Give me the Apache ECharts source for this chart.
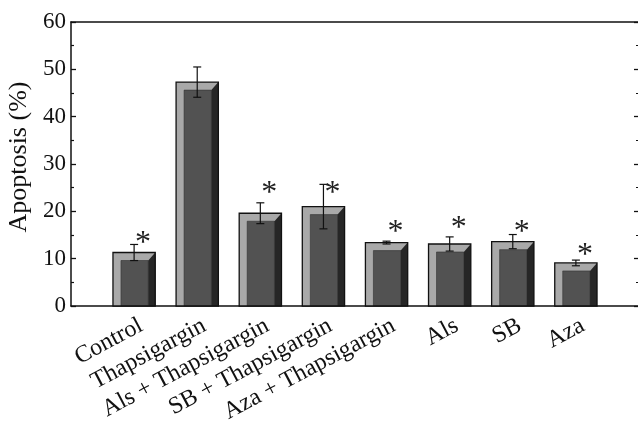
<!DOCTYPE html>
<html>
<head>
<meta charset="utf-8">
<script src="https://cdn.jsdelivr.net/npm/echarts@6/dist/echarts.min.js"></script>
<style>
  html, body { margin: 0; padding: 0; background: #fff; }
  #chart { width: 638px; height: 426px; }
</style>
</head>
<body>
<div id="chart"></div>
<script>
// ---- data ----
const categories = ['Control', 'Thapsigargin', 'Als + Thapsigargin', 'SB + Thapsigargin',
                    'Aza + Thapsigargin', 'Als', 'SB', 'Aza'];
const apoptosis = [11.3, 47.3, 19.6, 21.0, 13.4, 13.1, 13.6, 9.1];
const errors = [1.7, 3.2, 2.2, 4.7, 0.3, 1.5, 1.5, 0.6];
const significanceLevels = [14.2, null, 24.9, 24.7, 16.5, 17.5, 16.5, 11.6];
const yTicks = [0, 10, 20, 30, 40, 50, 60];

// ---- styling ----
const FONT = "'Liberation Serif', 'Times New Roman', Times, serif";
const BAR_RATIO = 0.67;

const barData = apoptosis.map((v, i) => [i, v]);
const errData = apoptosis.map((v, i) => [i, v, errors[i]]);
const starData = [];
significanceLevels.forEach((lv, i) => { if (lv != null) starData.push([i, lv]); });

function renderBar(params, api) {
  const i = api.value(0), v = api.value(1);
  const top = api.coord([i, v]);
  const base = api.coord([i, 0]);
  const w = api.size([BAR_RATIO, 0])[0];
  const x0 = top[0] - w / 2, x1 = top[0] + w / 2, yT = top[1], yB = base[1];
  const s = 8, r = 7;
  return {
    type: 'group',
    children: [
      { type: 'rect', shape: { x: x0, y: yT, width: x1 - x0, height: yB - yT },
        style: { fill: '#a9a9a9', stroke: null } },
      { type: 'rect', shape: { x: x0 + s, y: yT + s, width: (x1 - r) - (x0 + s), height: yB - yT - s },
        style: { fill: '#525252', stroke: '#333', lineWidth: 0.6 } },
      { type: 'polygon', shape: { points: [[x1 - r, yT + s], [x1, yT], [x1, yB], [x1 - r, yB]] },
        style: { fill: '#262626' } },
      { type: 'rect', shape: { x: x0, y: yT, width: x1 - x0, height: yB - yT },
        style: { fill: null, stroke: '#111', lineWidth: 1.3 } }
    ]
  };
}

function renderErr(params, api) {
  const i = api.value(0), v = api.value(1), e = api.value(2);
  const hi = api.coord([i, v + e]);
  const lo = api.coord([i, v - e]);
  const cap = 4;
  const st = { stroke: '#111', lineWidth: 1.2 };
  return {
    type: 'group',
    children: [
      { type: 'line', shape: { x1: hi[0], y1: hi[1], x2: lo[0], y2: lo[1] }, style: st },
      { type: 'line', shape: { x1: hi[0] - cap, y1: hi[1], x2: hi[0] + cap, y2: hi[1] }, style: st },
      { type: 'line', shape: { x1: lo[0] - cap, y1: lo[1], x2: lo[0] + cap, y2: lo[1] }, style: st }
    ]
  };
}

function renderStar(params, api) {
  const i = api.value(0), lv = api.value(1);
  const p = api.coord([i, lv]);
  return {
    type: 'text',
    x: p[0] + 9, y: p[1] + 5,
    style: { text: '*', fontFamily: FONT, fontSize: 32, fill: '#222',
             align: 'center', verticalAlign: 'middle' }
  };
}

const chart = echarts.init(document.getElementById('chart'), null, { renderer: 'canvas' });
chart.setOption({
  animation: false,
  backgroundColor: '#ffffff',
  textStyle: { fontFamily: FONT },
  grid: { left: 71, right: -1, top: 22, bottom: 120, containLabel: false, outerBoundsMode: 'none' },
  xAxis: [
    {
      type: 'value', min: -1, max: 8, interval: 1, position: 'bottom',
      axisLine: { show: true, onZero: false, lineStyle: { color: '#111', width: 1.5 } },
      axisTick: { show: false },
      splitLine: { show: false },
      axisLabel: {
        rotate: 28, margin: 22, padding: [0, -8, 0, 0],
        fontFamily: FONT, fontSize: 24, color: '#111',
        showMinLabel: true, showMaxLabel: true, hideOverlap: false,
        formatter: function (val) {
          const k = Math.round(val);
          return (k >= 0 && k < categories.length) ? categories[k] : '';
        }
      }
    },
    {
      type: 'value', min: -1, max: 8, position: 'top',
      axisLine: { show: true, onZero: false, lineStyle: { color: '#111', width: 1.5 } },
      axisTick: { show: false }, axisLabel: { show: false }, splitLine: { show: false }
    }
  ],
  yAxis: [
    {
      type: 'value', min: 0, max: 60, interval: 10, position: 'left',
      name: 'Apoptosis (%)', nameLocation: 'middle', nameGap: 34,
      nameTextStyle: { fontFamily: FONT, fontSize: 26, color: '#111', padding: [0, 0, 0, 14] },
      axisLine: { show: true, onZero: false, lineStyle: { color: '#111', width: 1.5 } },
      axisTick: { show: true, inside: true, length: 5, lineStyle: { color: '#111', width: 1.3 } },
      minorTick: { show: true, splitNumber: 2, length: 3, lineStyle: { color: '#111', width: 1.2 } },
      splitLine: { show: false },
      axisLabel: { margin: 5, fontFamily: FONT, fontSize: 23, color: '#111',
                   formatter: function (v) { return yTicks.indexOf(v) >= 0 ? String(v) : ''; } }
    },
    {
      type: 'value', min: 0, max: 60, interval: 10, position: 'right',
      axisLine: { show: true, onZero: false, lineStyle: { color: '#111', width: 1.5 } },
      axisTick: { show: true, inside: true, length: 5, lineStyle: { color: '#111', width: 1.3 } },
      minorTick: { show: true, splitNumber: 2, length: 3, lineStyle: { color: '#111', width: 1.2 } },
      splitLine: { show: false },
      axisLabel: { show: false }
    }
  ],
  series: [
    { type: 'custom', name: 'Apoptosis', renderItem: renderBar, data: barData,
      encode: { x: 0, y: 1 }, xAxisIndex: 0, yAxisIndex: 0, z: 2 },
    { type: 'custom', name: 'SD', renderItem: renderErr, data: errData,
      encode: { x: 0, y: 1 }, xAxisIndex: 0, yAxisIndex: 0, z: 3 },
    { type: 'custom', name: 'Significance', renderItem: renderStar, data: starData,
      encode: { x: 0, y: 1 }, xAxisIndex: 0, yAxisIndex: 0, z: 4 }
  ]
});
</script>
</body>
</html>
